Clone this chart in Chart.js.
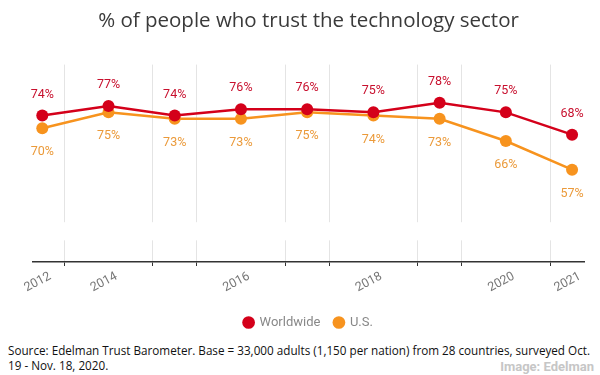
<!DOCTYPE html>
<html>
<head>
<meta charset="utf-8">
<script src="https://cdn.jsdelivr.net/npm/chart.js@4.4.0/dist/chart.umd.min.js"></script>
<style>
  body { margin: 0; background: #fff; }
  #wrap { position: relative; width: 600px; height: 375px; overflow: hidden; }
  .source { position: absolute; left: 8px; top: 343px; font: 11.7px/15px "Open Sans", sans-serif; color: #111; white-space: nowrap; }
  .credit { position: absolute; right: 6px; top: 359px; font: bold 13px/15px "Liberation Sans Narrow", "Roboto", sans-serif; color: #c6c6c6; }
</style>
</head>
<body>
<div id="wrap">
  <canvas id="myChart" width="600" height="340"></canvas>
  <div class="source">Source: Edelman Trust Barometer. Base = 33,000 adults (1,150 per nation) from 28 countries, surveyed Oct.<br>19 - Nov. 18, 2020.</div>
  <div class="credit">Image: Edelman</div>
</div>
<script>
// tick labels under the points (blank = no label)
const categories = ['2012', '2014', '', '2016', '', '2018', '', '2020', '2021'];
const worldwide = [74, 77, 74, 76, 76, 75, 78, 75, 68];
const us = [70, 75, 73, 73, 75, 74, 73, 66, 57];

const RED = '#d4001a';
const ORANGE = '#f7931e';
const LABEL_SHIFT = 0.12;

function toPoints(values) {
  return values.map((v, i) => ({ x: i, y: v }));
}

// value labels above red, below orange
const valueLabels = {
  id: 'valueLabels',
  afterDatasetsDraw(chart) {
    const ctx = chart.ctx;
    ctx.save();
    ctx.font = '12.5px Roboto, sans-serif';
    ctx.textAlign = 'center';
    ctx.textBaseline = 'middle';
    chart.data.datasets.forEach((ds, d) => {
      const meta = chart.getDatasetMeta(d);
      ctx.fillStyle = d === 0 ? '#c8102e' : '#eb9a3a';
      meta.data.forEach((el, i) => {
        const dy = d === 0 ? -21 : 24;
        ctx.fillText(ds.data[i].y + '%', el.x, el.y + dy);
      });
    });
    ctx.restore();
  }
};

// white band cutting the grid lines near the bottom
const gridGap = {
  id: 'gridGap',
  beforeDatasetsDraw(chart) {
    const { ctx, chartArea } = chart;
    const y = chart.scales.y;
    const top = y.getPixelForValue(40.5);
    const bottom = y.getPixelForValue(34.8);
    ctx.save();
    ctx.fillStyle = '#fff';
    ctx.fillRect(chartArea.left, top, chartArea.right - chartArea.left, bottom - top);
    ctx.restore();
  }
};

const config = {
  type: 'line',
  data: {
    datasets: [
      {
        label: 'Worldwide',
        data: toPoints(worldwide),
        borderColor: RED,
        backgroundColor: RED,
        borderWidth: 2.5,
        pointRadius: 6,
        pointHoverRadius: 6,
        pointBorderWidth: 0,
        tension: 0
      },
      {
        label: 'U.S.',
        data: toPoints(us),
        borderColor: ORANGE,
        backgroundColor: ORANGE,
        borderWidth: 2.5,
        pointRadius: 6,
        pointHoverRadius: 6,
        pointBorderWidth: 0,
        tension: 0
      }
    ]
  },
  options: {
    responsive: false,
    animation: false,
    layout: { padding: { left: 33, right: 16, top: 0, bottom: 1 } },
    plugins: {
      title: {
        display: true,
        text: '% of people who trust the technology sector',
        color: '#3a3a3a',
        font: { family: 'Open Sans', size: 20.5, weight: 'normal' },
        padding: { top: 9, bottom: 31 }
      },
      legend: {
        position: 'bottom',
        labels: {
          usePointStyle: true,
          pointStyle: 'circle',
          boxWidth: 9,
          boxHeight: 9,
          color: '#888',
          font: { family: 'Roboto', size: 13 },
          padding: 14
        }
      },
      tooltip: { enabled: false }
    },
    scales: {
      x: {
        type: 'linear',
        min: -0.14,
        max: 8.18,
        afterBuildTicks(scale) {
          const t = [];
          for (let i = 0; i < categories.length - 1; i++) {
            t.push({ value: i + (i % 2 === 0 ? 1 / 3 : 2 / 3) });
          }
          categories.forEach((c, i) => { if (c) t.push({ value: i + LABEL_SHIFT }); });
          t.sort((a, b) => a.value - b.value);
          scale.ticks = t;
        },
        afterFit(scale) { scale.height = 40; },
        ticks: {
          autoSkip: false,
          minRotation: 28,
          maxRotation: 28,
          padding: 3,
          color: '#777',
          font: { family: 'Roboto', size: 12.5 },
          callback(value) {
            const i = Math.round(value - LABEL_SHIFT);
            return Math.abs(value - LABEL_SHIFT - i) < 1e-6 ? categories[i] : '';
          }
        },
        grid: {
          color: c => (c.tick && c.tick.label ? 'rgba(0,0,0,0)' : '#e4e4e4'),
          tickColor: c => (c.tick && c.tick.label ? 'rgba(0,0,0,0)' : '#333'),
          tickLength: 4,
          lineWidth: 1
        },
        border: { display: true, color: '#333', width: 1.5 }
      },
      y: {
        display: false,
        min: 28,
        max: 90
      }
    }
  },
  plugins: [gridGap, valueLabels]
};

new Chart(document.getElementById('myChart'), config);
</script>
</body>
</html>
